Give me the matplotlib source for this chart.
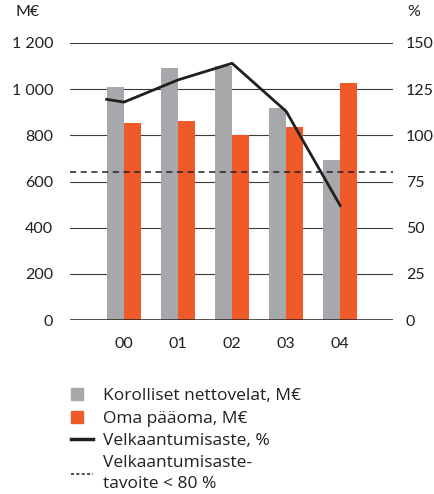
import numpy as np
import matplotlib
matplotlib.use("Agg")
import matplotlib.pyplot as plt
from matplotlib.patches import Rectangle
from matplotlib.lines import Line2D
from matplotlib.legend_handler import HandlerPatch

plt.rcParams["font.family"] = ["Lato", "DejaVu Sans"]

# ─── Data ─────────────────────────────────────────────────────────────────────
YEARS     = ["00", "01", "02", "03", "04"]
NETDEBT   = [1010, 1090, 1100, 920, 695]      # Korolliset nettovelat, M€
EQUITY    = [855, 860, 800, 838, 1025]        # Oma pääoma, M€
GEAR_X    = [-0.32, 0, 1, 2, 3, 4]            # lead-in point + years
GEARING   = [119.5, 118, 130, 139, 113, 62]   # Velkaantumisaste, %
TARGET    = 80                                 # tavoite < 80 %
LEFT_TICKS  = [0, 200, 400, 600, 800, 1000, 1200]
LEFT_LABELS = ["0", "200", "400", "600", "800", "1 000", "1 200"]
RIGHT_TICKS = [0, 25, 50, 75, 100, 125, 150]

GREY   = "#a7a8ab"
ORANGE = "#f05a28"
INK    = "#231f20"
W      = 0.31

fig = plt.figure(figsize=(4.34, 4.94), dpi=100)
ax = fig.add_axes([0.161, 0.352, 0.745, 0.561])
ax2 = ax.twinx()

x = np.arange(len(YEARS))
ax.bar(x - W / 2, NETDEBT, W, color=GREY, zorder=2)
ax.bar(x + W / 2, EQUITY, W, color=ORANGE, zorder=2)

for v in LEFT_TICKS[1:]:
    ax.axhline(v, color="#3a3a3a", lw=0.8, zorder=1)
ax.axhline(0, color=INK, lw=1.8, zorder=3)

ax.set_xlim(-1.0, 4.98)
ax.set_ylim(0, 1200)
ax.set_xticks(x)
ax.set_xticklabels(YEARS, fontsize=11.5)
ax.set_yticks(LEFT_TICKS)
ax.set_yticklabels(LEFT_LABELS, fontsize=11.5)
ax.tick_params(length=0, pad=12, colors=INK)
ax.tick_params(axis="x", pad=12)

ax2.plot(GEAR_X, GEARING, color=INK, lw=2, zorder=4)
ax2.axhline(TARGET, color=INK, lw=1.1, ls=(0, (4, 3)), zorder=4)
ax2.set_ylim(0, 150)
ax2.set_yticks(RIGHT_TICKS)
ax2.set_yticklabels([str(t) for t in RIGHT_TICKS], fontsize=11.5)
ax2.tick_params(length=0, pad=9, colors=INK)

for a in (ax, ax2):
    for s in a.spines.values():
        s.set_visible(False)

fig.text(0.035, 0.975, "M€", fontsize=11.5, color=INK, va="center")
fig.text(0.968, 0.975, "%", fontsize=11.5, color=INK, va="center", ha="right")

# ─── Legend ───────────────────────────────────────────────────────────────────
def square(legend, orig_handle, xdescent, ydescent, width, height, fontsize):
    s = height * 1.0
    return Rectangle((-xdescent, -ydescent + (height - s) / 2), s, s)

handles = [
    Rectangle((0, 0), 1, 1, color=GREY),
    Rectangle((0, 0), 1, 1, color=ORANGE),
    Line2D([], [], color=INK, lw=2.5),
    Line2D([], [], color=INK, lw=1.1, ls=(0, (2, 1.5))),
]
labels = ["Korolliset nettovelat, M€", "Oma pääoma, M€",
          "Velkaantumisaste, %", "Velkaantumisaste-\ntavoite < 80 %"]
leg = fig.legend(handles, labels, loc="upper left", bbox_to_anchor=(0.163, 0.214),
                 frameon=False, handlelength=1.3, handletextpad=0.55,
                 labelspacing=0.36, borderaxespad=0, borderpad=0, labelcolor=INK,
                 prop={"family": ["Open Sans", "DejaVu Sans"], "size": 12.5},
                 handler_map={Rectangle: HandlerPatch(patch_func=square)})
for t in leg.get_texts():
    t.set_linespacing(1.4)

fig.savefig("out.png", dpi=100)
